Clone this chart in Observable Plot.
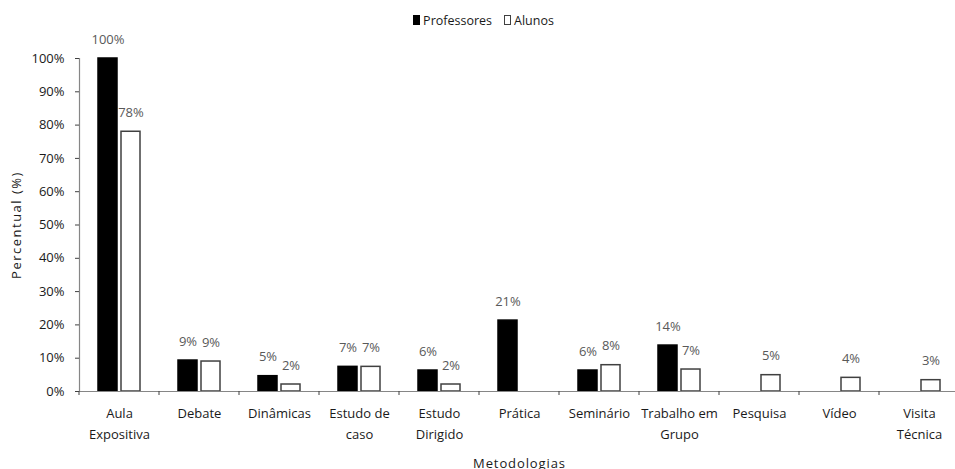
<!DOCTYPE html>
<html>
<head>
<meta charset="utf-8">
<script src="https://cdn.jsdelivr.net/npm/d3@7"></script>
<script src="https://cdn.jsdelivr.net/npm/@observablehq/plot@0.6"></script>
<style>
  html, body { margin: 0; padding: 0; background: #fff; overflow: hidden; }
  body { width: 955px; height: 469px; font-family: "Open Sans", sans-serif; }
  #legend { height: 40px; display: flex; justify-content: center; align-items: center; gap: 12px; font-size: 12.5px; color: #1a1a1a; padding-left: 12px; box-sizing: border-box; }
  #legend .item { display: flex; align-items: center; gap: 3px; }
  #legend .sw { width: 7px; height: 10px; box-sizing: border-box; }
</style>
</head>
<body>
<div id="legend"></div>
<div id="chart"></div>
<script>
const categories = ["Aula Expositiva", "Debate", "Dinâmicas", "Estudo de caso", "Estudo Dirigido", "Prática", "Seminário", "Trabalho em Grupo", "Pesquisa", "Vídeo", "Visita Técnica"];
const tickLabels = ["Aula\nExpositiva", "Debate", "Dinâmicas", "Estudo de\ncaso", "Estudo\nDirigido", "Prática", "Seminário", "Trabalho em\nGrupo", "Pesquisa", "Vídeo", "Visita\nTécnica"];
const series = ["Professores", "Alunos"];
const professores = [100, 9.3, 4.6, 7.4, 6.3, 21.3, 6.3, 13.8, null, null, null];
const alunos = [78, 9.0, 2.1, 7.4, 2.1, null, 7.9, 6.6, 4.9, 4.1, 3.4];
const yTicks = [0, 10, 20, 30, 40, 50, 60, 70, 80, 90, 100];

const fills = {Professores: "#000000", Alunos: "#ffffff"};
const strokes = {Professores: "#000000", Alunos: "#404040"};

// legend
const legend = document.getElementById("legend");
series.forEach(s => {
  const item = document.createElement("div");
  item.className = "item";
  const sw = document.createElement("div");
  sw.className = "sw";
  sw.style.background = fills[s];
  sw.style.border = "1.5px solid " + strokes[s];
  const lab = document.createElement("span");
  lab.textContent = s;
  item.appendChild(sw); item.appendChild(lab);
  legend.appendChild(item);
});

const rows = [];
categories.forEach((c, i) => {
  if (professores[i] != null) rows.push({cat: c, serie: "Professores", value: professores[i]});
  if (alunos[i] != null) rows.push({cat: c, serie: "Alunos", value: alunos[i]});
});

const plot = Plot.plot({
  width: 955,
  height: 429,
  marginTop: 18,
  marginBottom: 78,
  marginLeft: 75,
  marginRight: -8,
  style: {fontFamily: "Open Sans, sans-serif", fontSize: "13px", color: "#1a1a1a", background: "white", overflow: "visible"},
  fx: {domain: categories, padding: 0, axis: null},
  x: {domain: series, paddingInner: 0.19, paddingOuter: 0.81, axis: null},
  y: {domain: [0, 100], axis: null},
  marks: [
    Plot.frame({anchor: "left", facetAnchor: "left", stroke: "#868686", strokeWidth: 1.2}),
    Plot.barY(rows, {fx: "cat", x: "serie", y: "value", fill: d => fills[d.serie], stroke: d => strokes[d.serie], strokeWidth: 1.5}),
    Plot.ruleY([0], {stroke: "#868686", strokeWidth: 1.2}),
    Plot.text(rows, {fx: "cat", x: "serie", y: "value", text: d => Math.round(d.value) + "%", dy: -19, fill: "#595959"}),
    Plot.axisY({ticks: yTicks, tickFormat: d => d + "%", tickSize: 4, tickPadding: 11, stroke: "#404040",
      label: "Percentual (%)", labelArrow: "none", labelAnchor: "center", labelOffset: 68}),
    Plot.axisFx({anchor: "bottom", tickSize: 0, tickPadding: 12, lineHeight: 1.6, tickFormat: d => tickLabels[categories.indexOf(d)],
      label: "Metodologias", labelArrow: "none", labelAnchor: "center", labelOffset: 76})
  ]
});

document.getElementById("chart").appendChild(plot);

// wide letter spacing of the axis titles, as in the reference
d3.select(plot).selectAll("text")
  .filter(function() { return this.textContent === "Percentual (%)"; })
  .attr("letter-spacing", "1.5px");
d3.select(plot).selectAll("text")
  .filter(function() { return this.textContent === "Metodologias"; })
  .attr("letter-spacing", "0.9px");

// category boundary tick marks on the x axis, from the fx scale
const fxs = plot.scale("fx");
const ys = plot.scale("y");
const y0 = ys.apply(0);
const bounds = categories.map(c => fxs.apply(c));
bounds.push(fxs.apply(categories[categories.length - 1]) + fxs.bandwidth);
d3.select(plot).append("g")
  .attr("stroke", "#404040")
  .selectAll("line")
  .data(bounds)
  .join("line")
  .attr("x1", d => d).attr("x2", d => d)
  .attr("y1", y0).attr("y2", y0 + 4);
</script>
</body>
</html>
